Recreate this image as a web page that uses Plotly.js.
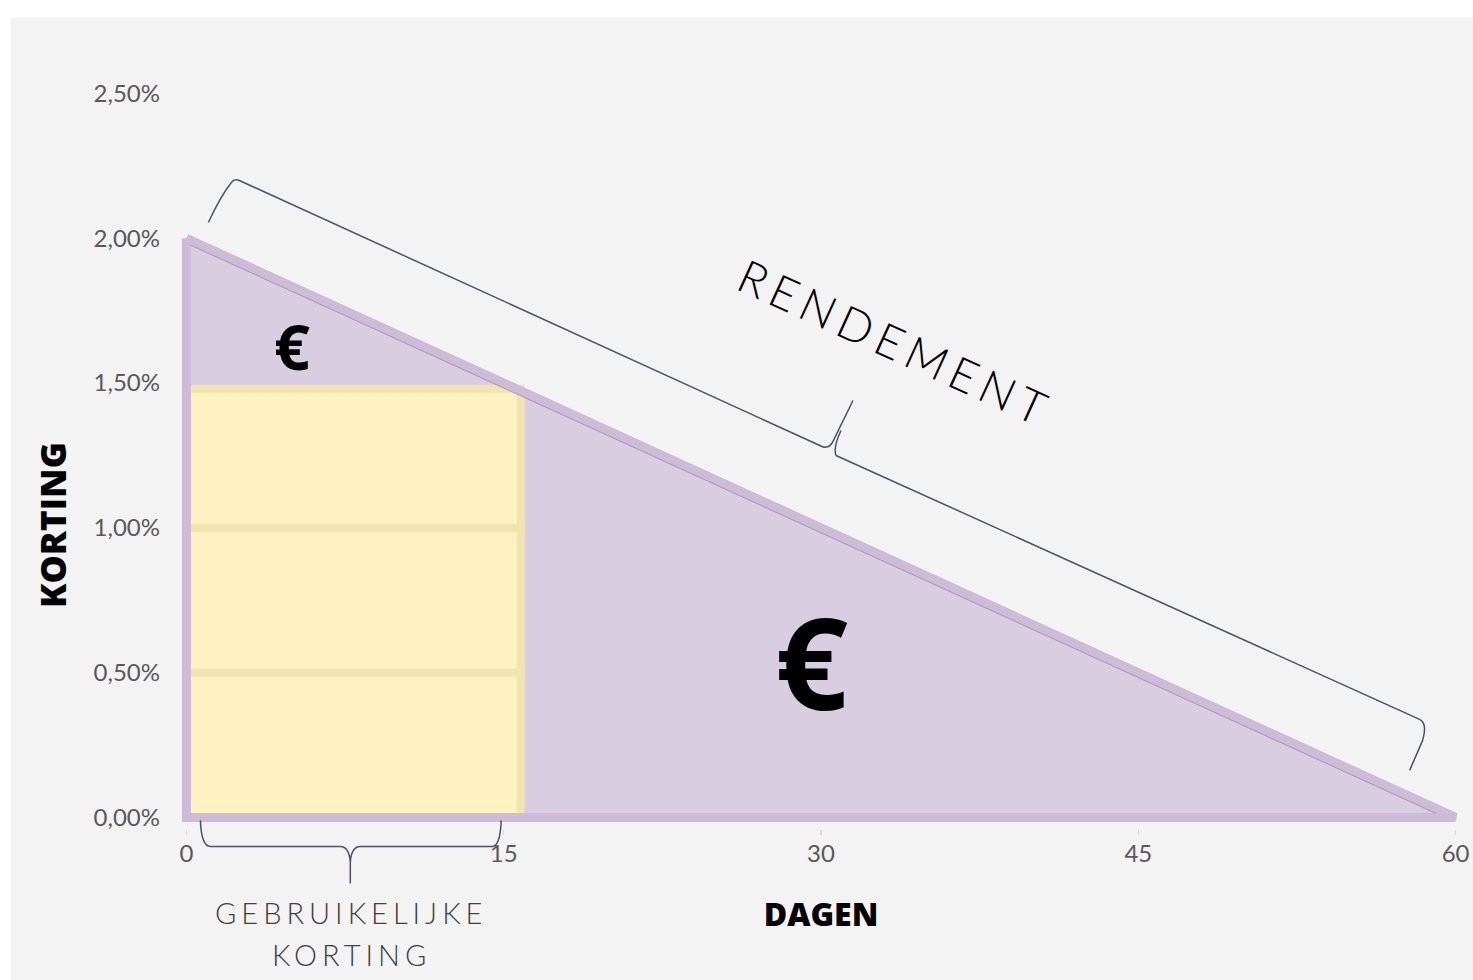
<!DOCTYPE html>
<html><head><meta charset="utf-8">
<script src="https://cdn.plot.ly/plotly-3.0.1.min.js"></script>
<style>html,body{margin:0;padding:0;background:#fff;overflow:hidden}</style>
</head><body><div id="chart" style="width:1473px;height:980px"></div>
<script>
// ---- data ----
const dayTicks = [0, 15, 30, 45, 60];
const kortingTicks = [0, 0.005, 0.01, 0.015, 0.02, 0.025];
const triangleDays = [0, 60, 0, 0];
const triangleKorting = [0.02, 0, 0, 0.02];
const usualDays = [0, 15.8];
const usualBands = [0, 0.005, 0.01, 0.0148];
const xTitle = 'DAGEN';
const yTitle = 'KORTING';
const rendementLabel = 'RENDEMENT';
const usualLabel = ['GEBRUIKELIJKE', 'KORTING'];

// ---- layout geometry ----
const W = 1473, H = 980;
const M = {l: 178.6, r: 9.6, t: 78.5, b: 151.4};
const pw = W - M.l - M.r, ph = H - M.t - M.b;
const fx = px => (px - M.l) / pw;
const fy = py => (H - M.b - py) / ph;
function path(cmds) {
  return cmds.map(c => c[0] + c.slice(1).reduce((s, v, i, a) => {
    if (i % 2 === 0) return s + (i ? ' ' : '') + fx(v).toFixed(5) + ',' + fy(a[i + 1]).toFixed(5);
    return s;
  }, '')).join(' ');
}

const purpleFill = 'rgb(217,205,225)';
const purpleLine = 'rgb(206,187,217)';
const yellowFill = 'rgb(255,241,192)';
const yellowLine = 'rgb(242,228,176)';
const braceColor = 'rgb(68,84,106)';

const traces = [];
traces.push({
  type: 'scatter', mode: 'lines', x: triangleDays, y: triangleKorting,
  fill: 'toself', fillcolor: purpleFill, line: {width: 0}, hoverinfo: 'skip', showlegend: false
});
for (let i = 0; i < usualBands.length - 1; i++) {
  const lo = usualBands[i], hi = usualBands[i + 1];
  traces.push({
    type: 'scatter', mode: 'lines',
    x: [usualDays[0], usualDays[1], usualDays[1], usualDays[0], usualDays[0]],
    y: [lo, lo, hi, hi, lo],
    fill: 'toself', fillcolor: yellowFill, line: {width: 8, color: yellowLine},
    hoverinfo: 'skip', showlegend: false
  });
}
traces.push({
  type: 'scatter', mode: 'lines', x: triangleDays, y: triangleKorting,
  line: {width: 9, color: purpleLine, simplify: false}, hoverinfo: 'skip', showlegend: false
});
// thin inner edge along the hypotenuse
const slope = (triangleKorting[0] - triangleKorting[1]) / (triangleDays[1] - triangleDays[0]);
const off = 0.000171, x0in = 0.19, y1in = 0.000138;
traces.push({
  type: 'scatter', mode: 'lines',
  x: [x0in, (triangleKorting[0] - off - y1in) / slope],
  y: [triangleKorting[0] - off - slope * x0in, y1in],
  line: {width: 1, color: 'rgb(165,150,175)'}, hoverinfo: 'skip', showlegend: false
});

const tickFont = {family: 'Lato, "Open Sans", sans-serif', size: 24, color: '#595959'};
const boldFont = (size) => ({family: '"Open Sans", sans-serif', weight: 800, size: size, color: '#000'});
const layout = {
  width: W, height: H, margin: M,
  paper_bgcolor: '#ffffff', plot_bgcolor: 'rgba(0,0,0,0)',
  separators: ',.',
  showlegend: false,
  xaxis: {
    range: [-0.35, 60.35], tickvals: dayTicks, ticktext: dayTicks.map(String),
    showgrid: false, zeroline: false, showline: false,
    ticks: 'outside', ticklen: 5, tickcolor: '#d9d9d9', tickwidth: 1.5,
    tickfont: tickFont, ticklabelstandoff: -2,
    title: {text: xTitle, standoff: 37, font: boldFont(32)}
  },
  yaxis: {
    range: [-0.0004, 0.0255], tickvals: kortingTicks, tickformat: '.2%',
    showgrid: false, zeroline: false, showline: false, ticks: '',
    tickfont: tickFont, ticklabelstandoff: 18
  },
  shapes: [
    {type: 'rect', xref: 'paper', yref: 'paper', x0: fx(10), x1: fx(1480), y0: fy(17), y1: fy(990),
     fillcolor: '#f3f3f3', line: {width: 0}, layer: 'below'},
    {type: 'path', xref: 'paper', yref: 'paper', layer: 'above', line: {color: braceColor, width: 1.5},
     path: path([['M', 208, 222], ['Q', 220, 196, 231, 182], ['Q', 234, 178, 239, 180], ['L', 822, 446],
                 ['Q', 829, 449, 833, 441], ['L', 853, 400],
                 ['M', 836, 455], ['Q', 833, 447, 841, 430],
                 ['M', 836, 455], ['L', 1420, 719], ['Q', 1428, 723, 1423, 740], ['L', 1410, 770]])},
    {type: 'path', xref: 'paper', yref: 'paper', layer: 'above', line: {color: braceColor, width: 1.5},
     path: path([['M', 200, 820], ['Q', 201, 846, 210, 846], ['L', 340, 846], ['Q', 349, 846, 350, 862],
                 ['L', 350, 883], ['M', 350, 862], ['Q', 351, 846, 360, 846], ['L', 492, 846],
                 ['Q', 500, 846, 501, 820]])}
  ],
  annotations: [
    {xref: 'paper', yref: 'paper', x: fx(52), y: fy(524), xanchor: 'center', yanchor: 'middle',
     textangle: -90, text: yTitle, showarrow: false, font: boldFont(35.5)},
    {xref: 'x', yref: 'y', x: 5.0, y: 0.0163, text: '€', showarrow: false,
     font: {family: '"Open Sans", sans-serif', weight: 700, size: 63, color: '#000'}},
    {xref: 'x', yref: 'y', x: 29.57, y: 0.00542, text: '€', showarrow: false,
     font: {family: '"Open Sans", sans-serif', weight: 700, size: 128, color: '#000'}},
    {xref: 'x', yref: 'y', x: 33.5, y: 0.01640, textangle: 24.5, showarrow: false,
     text: '<span style="letter-spacing:6.5px">' + rendementLabel + '</span>',
     font: {family: 'Lato, sans-serif', weight: 300, size: 46, color: '#000'}},
    {xref: 'paper', yref: 'paper', x: fx(351), y: fy(912), xanchor: 'center', yanchor: 'middle', showarrow: false,
     text: '<span style="letter-spacing:5px">' + usualLabel[0] + '</span>',
     font: {family: 'Lato, sans-serif', weight: 300, size: 29, color: '#404040'}},
    {xref: 'paper', yref: 'paper', x: fx(351), y: fy(954), xanchor: 'center', yanchor: 'middle', showarrow: false,
     text: '<span style="letter-spacing:5px">' + usualLabel[1] + '</span>',
     font: {family: 'Lato, sans-serif', weight: 300, size: 29, color: '#404040'}}
  ]
};
Plotly.newPlot('chart', traces, layout, {staticPlot: true, displayModeBar: false});
</script>
</body></html>
